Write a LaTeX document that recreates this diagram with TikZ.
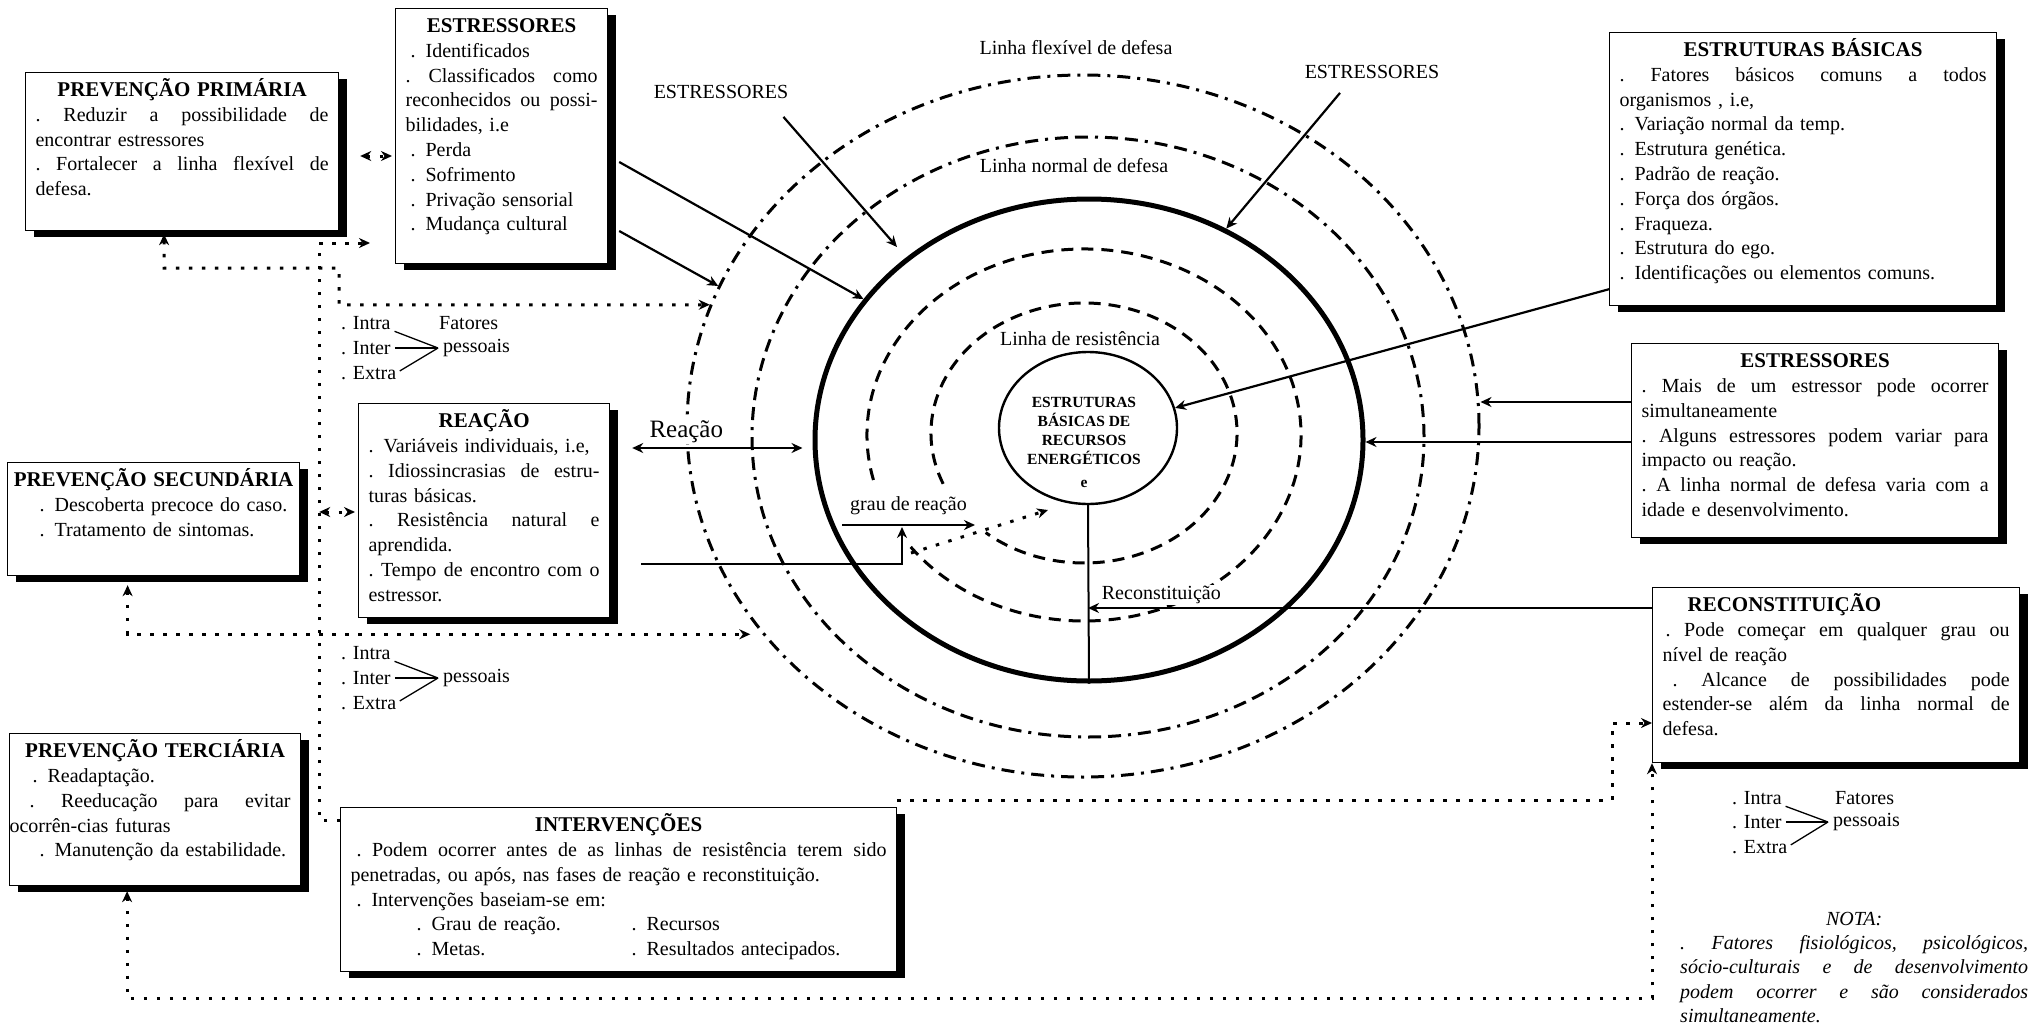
\documentclass[tikz,border=0pt]{standalone}
\usepackage{fontspec}
\setmainfont{Liberation Serif}
\usetikzlibrary{shapes.geometric,shadows,arrows.meta}
\newcommand{\cardtitle}[1]{\makebox[\linewidth]{\fontsize{21}{24.8}\selectfont\bfseries #1}}
\tikzset{
  card/.style={draw,line width=1.2pt,fill=white,anchor=north west,align=left,
    inner xsep=10pt,inner ysep=4pt,text height=20pt,
    drop shadow={shadow xshift=8pt,shadow yshift=-6pt,fill=black,opacity=1}},
  lbl/.style={inner sep=1pt,fill=white},
  word/.style={anchor=west,inner sep=0pt},
  ring/.style={ellipse,draw,inner sep=0pt,line width=3pt},
  resline/.style={line width=3pt,dash pattern=on 12pt off 8pt},
  link/.style={line width=2.2pt},
  dotlink/.style={line width=3pt,dash pattern=on 3.5pt off 9.5pt},
  brace/.style={line width=1.3pt,shorten <=4pt},
}
\begin{document}
\begin{tikzpicture}[x=1pt,y=-1pt,>={Stealth[length=11pt,width=10pt]},font=\fontsize{20}{24.8}\selectfont]
\useasboundingbox[fill=white] (0,0) rectangle (2037,1033);

\node[ring,minimum width=792pt,minimum height=702pt,dash pattern=on 13pt off 7pt on 3pt off 7pt] (flex) at (1083,426) {};
\node[ring,minimum width=672pt,minimum height=600pt,dash pattern=on 13pt off 7pt on 13pt off 7pt on 3pt off 7pt] (normal) at (1088,437) {};
\node[ring,minimum width=548pt,minimum height=482pt,line width=5pt] (solid) at (1089,440) {};
\draw[resline] (1084,435) ++(166:217 and 186) arc[start angle=166,end angle=503,x radius=217,y radius=186];
\draw[resline] (1084,433) ++(157:153 and 130) arc[start angle=157,end angle=490,x radius=153,y radius=130];
\node[ring,minimum width=178pt,minimum height=152pt,line width=2.4pt] (core) at (1088,428) {};
\node[font=\fontsize{15.5}{19}\selectfont\bfseries,align=center] (coretxt) at (1084,442)
  {ESTRUTURAS\\BÁSICAS DE\\RECURSOS\\ENERGÉTICOS\\[4pt]e};

\node[lbl] (flexlbl) at (1076,48) {Linha flexível de defesa};
\node[lbl] (normlbl) at (1074,166) {Linha normal de defesa};
\node[lbl] (reslbl) at (1080,339) {Linha de resistência};
\node[lbl] (estA) at (721,92) {ESTRESSORES};
\node[lbl] (estB) at (1372,72) {ESTRESSORES};

\node[card,text width=293pt,text depth=130pt] (ppri) at (25,72) {\cardtitle{PREVENÇÃO PRIMÁRIA}\\
  .\hfill Reduzir\hfill a\hfill possibilidade\hfill de\\
  encontrar estressores\\
  .\hfill Fortalecer\hfill a\hfill linha\hfill flexível\hfill de\\
  defesa.};
\node[card,text width=192pt,text depth=227pt] (es) at (395,8) {\cardtitle{ESTRESSORES}\\
  \hspace*{5pt}. Identificados\\
  .\hfill Classificados\hfill como\\
  reconhecidos\hfill ou\hfill possi-\\
  bilidades, i.e\\
  \hspace*{5pt}. Perda\\
  \hspace*{5pt}. Sofrimento\\
  \hspace*{5pt}. Privação sensorial\\
  \hspace*{5pt}. Mudança cultural};
\node[card,text width=231pt,text depth=186pt] (re) at (358,403) {\cardtitle{REAÇÃO}\\
  . Variáveis individuais, i.e,\\
  .\hfill Idiossincrasias\hfill de\hfill estru-\\
  turas básicas.\\
  .\hfill Resistência\hfill natural\hfill e\\
  aprendida.\\
  .\hfill Tempo\hfill de\hfill encontro\hfill com\hfill o\\
  estressor.};
\node[card,text width=272pt,text depth=85pt] (psec) at (7,462) {\cardtitle{PREVENÇÃO SECUNDÁRIA}\\
  \hspace*{22pt}. Descoberta precoce do caso.\\
  \hspace*{22pt}. Tratamento de sintomas.};
\node[card,text width=271pt,text depth=124pt] (pter) at (9,733) {\cardtitle{PREVENÇÃO TERCIÁRIA}\\
  \hspace*{13pt}. Readaptação.\\
  \hspace*{10pt}.\hfill Reeducação\hfill para\hfill evitar\\
  \hspace*{-10pt}ocorrên-cias futuras\\
  \hspace*{20pt}. Manutenção da estabilidade.};
\node[card,text width=536pt,text depth=136pt] (intv) at (340,807) {\cardtitle{INTERVENÇÕES}\\
  \hspace*{6pt}.\hfill Podem\hfill ocorrer\hfill antes\hfill de\hfill as\hfill linhas\hfill de\hfill resistência\hfill terem\hfill sido\\
  penetradas, ou após, nas fases de reação e reconstituição.\\
  \hspace*{6pt}. Intervenções baseiam-se em:\\
  \makebox[281pt][l]{\hspace*{66pt}. Grau de reação.}. Recursos\\
  \makebox[281pt][l]{\hspace*{66pt}. Metas.}. Resultados antecipados.};
\node[card,text width=367pt,text depth=245pt] (eb) at (1609,32) {\cardtitle{ESTRUTURAS BÁSICAS}\\
  .\hfill Fatores\hfill básicos\hfill comuns\hfill a\hfill todos\\
  organismos , i.e,\\
  . Variação normal da temp.\\
  . Estrutura genética.\\
  . Padrão de reação.\\
  . Força dos órgãos.\\
  . Fraqueza.\\
  . Estrutura do ego.\\
  . Identificações ou elementos comuns.};
\node[card,text width=347pt,text depth=166pt] (er) at (1631,343) {\cardtitle{ESTRESSORES}\\
  .\hfill Mais\hfill de\hfill um\hfill estressor\hfill pode\hfill ocorrer\\
  simultaneamente\\
  .\hfill Alguns\hfill estressores\hfill podem\hfill variar\hfill para\\
  impacto ou reação.\\
  .\hfill A\hfill linha\hfill normal\hfill de\hfill defesa\hfill varia\hfill com\hfill a\\
  idade e desenvolvimento.};
\node[card,text width=347pt,text depth=147pt] (rc) at (1652,587) {\hspace*{25pt}{\fontsize{21}{24.8}\selectfont\bfseries RECONSTITUIÇÃO}\\
  \hspace*{3pt}.\hfill Pode\hfill começar\hfill em\hfill qualquer\hfill grau\hfill ou\\
  nível de reação\\
  \hspace*{10pt}.\hfill Alcance\hfill de\hfill possibilidades\hfill pode\\
  estender-se\hfill além\hfill da\hfill linha\hfill normal\hfill de\\
  defesa.};

\node[anchor=north west,inner sep=0pt,text width=348pt,align=left,text height=14pt,
  font=\fontsize{20}{24.3}\selectfont\itshape] (nota) at (1680,911) {\makebox[\linewidth]{NOTA:}\\
  .\hfill Fatores\hfill fisiológicos,\hfill psicológicos,\\
  sócio-culturais\hfill e\hfill de\hfill desenvolvimento\\
  podem\hfill ocorrer\hfill e\hfill são\hfill considerados\\
  simultaneamente.};

\node[word] (intra1) at (341,323) {. Intra};
\node[word] (inter1) at (341,348) {. Inter};
\node[word] (extra1) at (341,373) {. Extra};
\node[word] (fat1) at (439,323) {Fatores};
\node[word] (pes1) at (443,348) {pessoais};
\coordinate (v1) at (438,348);
\draw[brace] (intra1.south east) -- (v1);
\draw[brace] (inter1.east) -- (v1);
\draw[brace] (extra1.east) -- (v1);

\node[word] (intra2) at (341,653) {. Intra};
\node[word] (inter2) at (341,678) {. Inter};
\node[word] (extra2) at (341,703) {. Extra};
\node[word] (pes2) at (443,678) {pessoais};
\coordinate (v2) at (438,678);
\draw[brace] (intra2.south east) -- (v2);
\draw[brace] (inter2.east) -- (v2);
\draw[brace] (extra2.east) -- (v2);

\node[word] (intra3) at (1732,798) {. Intra};
\node[word] (inter3) at (1732,822) {. Inter};
\node[word] (extra3) at (1732,847) {. Extra};
\node[word] (fat3) at (1835,798) {Fatores};
\node[word] (pes3) at (1833,822) {pessoais};
\coordinate (v3) at (1828,822);
\draw[brace] (intra3.south east) -- (v3);
\draw[brace] (inter3.east) -- (v3);
\draw[brace] (extra3.east) -- (v3);

\draw[link,->] ([xshift=11pt,yshift=-154pt]es.north east) -- (solid.148);
\draw[link,->] ([xshift=11pt,yshift=-223pt]es.north east) -- (flex.159);
\coordinate (hitA) at (897,247);
\draw[link,->] (estA.south east) ++(-6,17) -- (hitA);
\draw[link,->] (estB.south) ++(-32,13) -- (solid.57);
\draw[link,->] ([yshift=17pt]eb.south west) -- (core.13);
\coordinate (erA) at ([yshift=-59pt]er.north west);
\coordinate (erB) at ([yshift=-99pt]er.north west);
\draw[link,->] (erA) -- (erA -| flex.east);
\draw[link,->] (erB) -- (erB -| solid.east);
\draw[line width=2pt] (core.south) -- (solid.south);
\coordinate (rcA) at ([yshift=-21pt]rc.north west);
\draw[link,->] (rcA) -- (rcA -| core.south) node[pos=0.87,above=2pt,lbl] (reclbl) {Reconstituição};
\coordinate (reA) at ([xshift=22pt,yshift=-45pt]re.north east);
\draw[link,<->,shorten >=10pt] (reA) -- (reA -| solid.west)
  node[pos=0.3,above=3pt,lbl,font=\fontsize{25}{30}\selectfont] (reaclbl) {Reação};
\coordinate (reB) at ([xshift=31pt,yshift=-161pt]re.north east);
\coordinate (gA) at (842,525);
\coordinate (gB) at (975,525);
\coordinate (gUp) at (902,527);
\draw[link,->] (gA) -- (gB) node[midway,above=8pt,lbl] (graulbl) {grau de reação};
\draw[link,->] (reB) -| (gUp);
\coordinate (gDot) at (911,553);
\coordinate (gTip) at (1048,510);
\draw[dotlink,->] (gDot) -- (gTip);

\draw[dotlink,<->] ([xshift=21pt,yshift=-84pt]ppri.north east) -- ([xshift=-3pt,yshift=-148pt]es.north west);
\draw[dotlink,<->,shorten <=3pt] ([xshift=-18pt]ppri.south) -- ++(0,37) -| (339,305) -- (flex.162);
\draw[dotlink,->] ([yshift=-13pt]intv.north west) -| (319,243) -- ([xshift=-25pt,yshift=-235pt]es.north west);
\draw[dotlink,<->] ([xshift=19pt,yshift=-50pt]psec.north east) -- ([xshift=-3pt,yshift=-109pt]re.north west);
\draw[dotlink,<->,shorten <=9pt,shorten >=12pt] ([xshift=-26pt]psec.south) |- (flex.213);
\draw[dotlink,<->,shorten <=5pt] ([xshift=-28pt]pter.south) -- ++(0,112) -| (rc.south west);
\draw[dotlink,->] ([yshift=7pt]intv.north east) -| (1612,723) -- ([yshift=-136pt]rc.north west);
\end{tikzpicture}
\end{document}
